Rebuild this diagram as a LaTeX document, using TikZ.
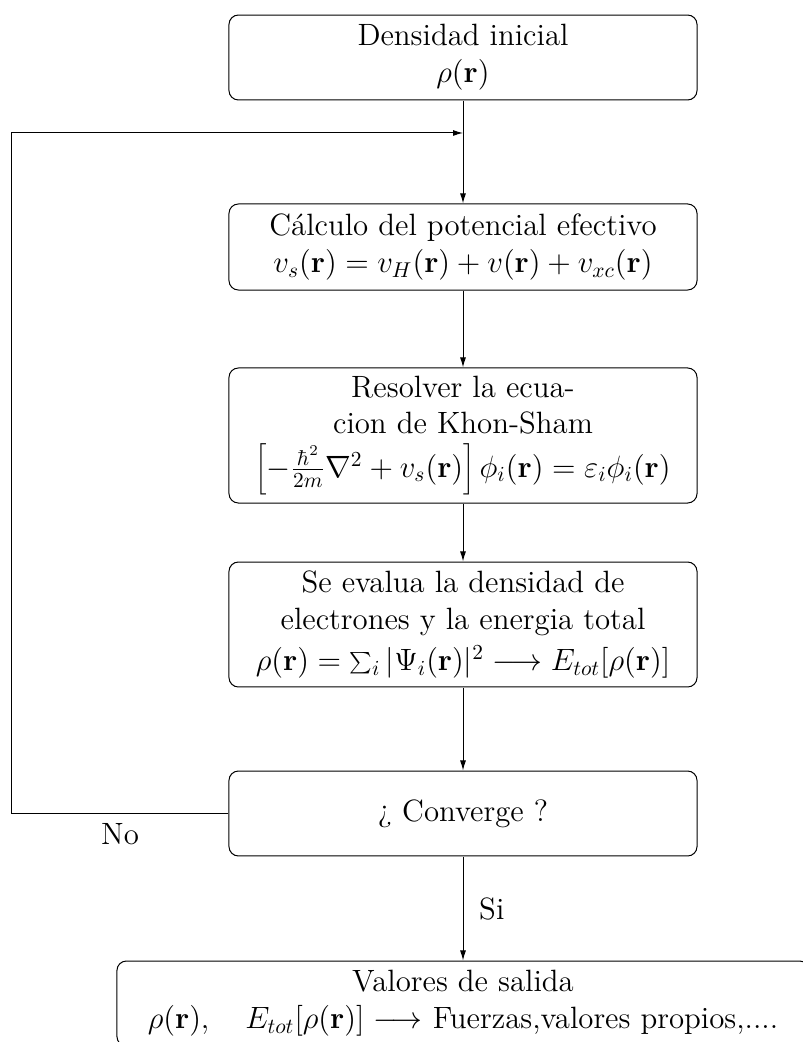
\documentclass[tikz,border=0pt]{standalone}
\usetikzlibrary{arrows.meta}
\begin{document}
\begin{tikzpicture}[x=0.5pt,y=-0.5pt,
  txt/.style={font=\fontsize{14.4}{17.2}\selectfont, scale=1.07, transform shape},
  stage/.style={txt, draw, line width=0.5pt, rounded corners=4.7pt, minimum width=218.7pt,
    align=center, inner sep=0pt},
  flow/.style={-{Latex[length=5pt,width=3pt]}, line width=0.5pt},
  plain/.style={line width=0.5pt},
  tag/.style={txt}]
\useasboundingbox (0,0) rectangle (802,1042);

% process stages
\node[stage, minimum height=39.7pt] (ini) at (463,57.5)
  {Densidad inicial\\ $\rho(\mathbf{r})$};
\node[stage, minimum height=40.2pt] (pot) at (463,247)
  {C\'alculo del potencial efectivo\\
   $v_s(\mathbf{r}) = v_H(\mathbf{r}) + v(\mathbf{r}) + v_{xc}(\mathbf{r})$};
\node[stage, minimum height=63.1pt] (ks) at (463,435.5)
  {Resolver la ecua-\\ cion de Khon-Sham\\[3pt]
   $\left[-\frac{\hbar^2}{2m}\nabla^2 + v_s(\mathbf{r})\right]\phi_i(\mathbf{r}) = \varepsilon_i\phi_i(\mathbf{r})$};
\node[stage, minimum height=58.4pt] (dens) at (463,624.5)
  {Se evalua la densidad de\\ electrones y la energia total\\[2pt]
   $\rho(\mathbf{r}) = \sum_i |\Psi_i(\mathbf{r})|^2 \longrightarrow E_{tot}[\rho(\mathbf{r})]$};
\node[stage, minimum height=39.7pt] (conv) at (463,813.5)
  {\textquestiondown{} Converge ?};
\node[stage, minimum width=323.4pt, minimum height=39.7pt] (out) at (463,1003.5)
  {Valores de salida\\
   $\rho(\mathbf{r}),\quad E_{tot}[\rho(\mathbf{r})] \longrightarrow$ Fuerzas,valores propios,....};

% main flow
\coordinate (join) at (463,133);
\draw[plain] (ini.south) -- (join);
\draw[flow] (join) -- (pot.north);
\draw[flow] (pot.south) -- (ks.north);
\draw[flow] (ks.south) -- (dens.north);
\draw[flow] (dens.south) -- (conv.north);
\draw[flow] (conv.south) -- node[tag, right=4pt] {Si} (out.north);

% feedback loop
\coordinate (loopB) at (11,813.5);
\coordinate (loopT) at (11,133);
\draw[flow] (conv.west) -- (loopB) -- (loopT) -- (join);
\node[tag] (no) at (120,834) {No};
\end{tikzpicture}
\end{document}
